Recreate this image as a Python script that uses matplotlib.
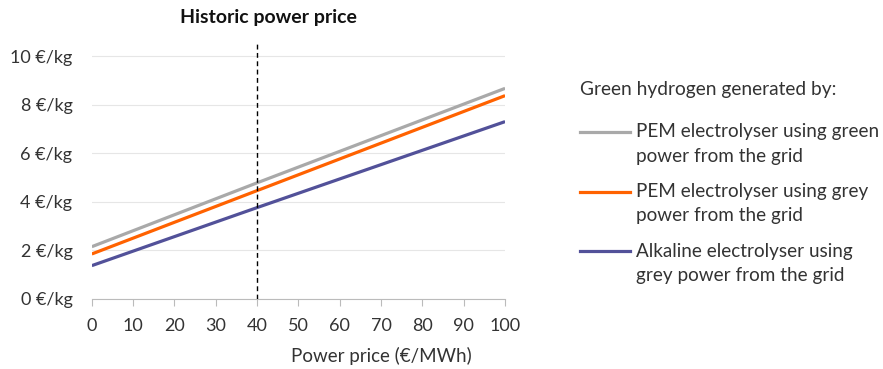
import numpy as np
import matplotlib.pyplot as plt
from matplotlib.lines import Line2D

plt.rcParams['font.family'] = ['Lato', 'DejaVu Sans']

# power price (€/MWh) and hydrogen cost (€/kg)
power_price = [0, 40, 100]
pem_green = [2.15, 4.78, 8.67]
pem_grey = [1.85, 4.46, 8.37]
alkaline_grey = [1.37, 3.76, 7.30]

labels = ['PEM electrolyser using green\npower from the grid',
          'PEM electrolyser using grey\npower from the grid',
          'Alkaline electrolyser using\ngrey power from the grid']
colors = ['#A9A9A9', '#FF6200', '#525199']

x_ticks = list(range(0, 101, 10))
y_ticks = [0, 2, 4, 6, 8, 10]
historic_price = 40

W, H = 883, 369


def fx(px):
    return px / W


def fy(py):
    return 1 - py / H


fig = plt.figure(figsize=(8.83, 3.69), dpi=100)
ax = fig.add_axes([0.104, 0.19, 0.468, 0.691])

for series, color in zip([pem_green, pem_grey, alkaline_grey], colors):
    ax.plot(power_price, series, color=color, lw=2.3, solid_capstyle='butt')

ax.axvline(historic_price, color='black', lw=1, ls=(0, (3.5, 2.5)), zorder=3)

ax.set_xlim(0, 100)
ax.set_ylim(0, 10.5)
ax.set_xticks(x_ticks)
ax.set_yticks(y_ticks)
ax.set_yticklabels([f'{v} €/kg' for v in y_ticks])
ax.grid(axis='y', color='#E6E6E6', lw=0.8)
ax.set_axisbelow(True)

for s in ['top', 'right', 'left']:
    ax.spines[s].set_visible(False)
ax.spines['bottom'].set_color('#BBBBBB')
ax.tick_params(axis='y', length=0, pad=14, labelsize=13, colors='#333333')
ax.tick_params(axis='x', length=5, color='#BBBBBB', pad=9, labelsize=13, labelcolor='#333333')

ax.set_xlabel('Power price (€/MWh)', fontsize=13.5, color='#333333')
ax.xaxis.set_label_coords(0.70, -0.19)

fig.text(fx(268), fy(18), 'Historic power price', ha='center', va='center',
         fontsize=14, fontweight='bold', color='#111111')

# legend, laid out by hand so the handle sits on the first text line
fig.text(fx(580), fy(89), 'Green hydrogen generated by:', ha='left', va='center',
         fontsize=13.8, color='#333333')
for i, (label, color) in enumerate(zip(labels, colors)):
    yl = 132 + i * 59.5
    fig.add_artist(Line2D([fx(580), fx(630)], [fy(yl), fy(yl)], color=color,
                          lw=2.3, transform=fig.transFigure))
    for j, line in enumerate(label.split('\n')):
        fig.text(fx(636), fy(yl + j * 24), line, ha='left', va='center',
                 fontsize=13.6, color='#333333')

fig.savefig('out.png', dpi=100)
